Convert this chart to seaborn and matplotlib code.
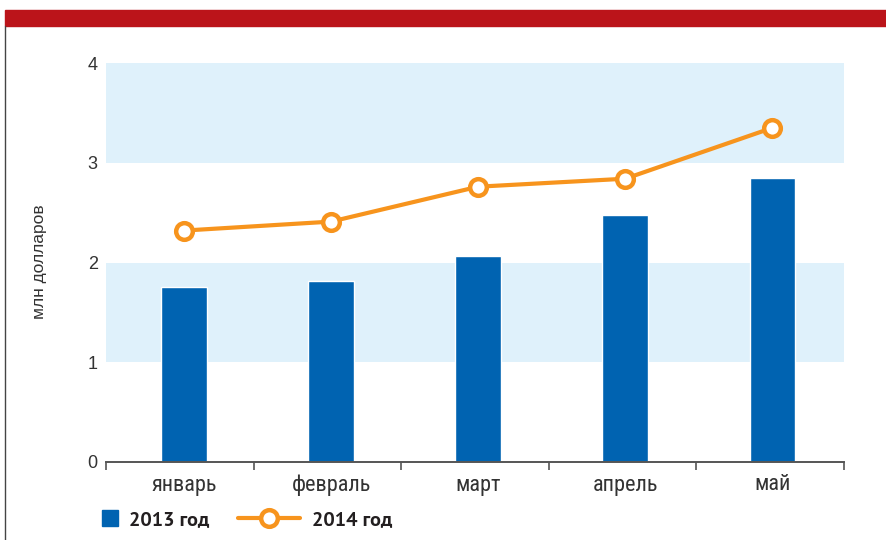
import matplotlib
matplotlib.use("Agg")
import matplotlib.pyplot as plt
from matplotlib import font_manager
from matplotlib.lines import Line2D
from matplotlib.patches import Rectangle
import numpy as np
import seaborn as sns

# data
months = ["январь", "февраль", "март", "апрель", "май"]
values_2013 = [1.75, 1.81, 2.07, 2.48, 2.85]
values_2014 = [2.32, 2.41, 2.76, 2.84, 3.35]
series_labels = ["2013 год", "2014 год"]
y_label = "млн долларов"

BLUE = "#0063b1"
ORANGE = "#f7941d"
BAND = "#dff1fb"
TEXT = "#333333"


def first_font(candidates, fallback):
    installed = {f.name for f in font_manager.fontManager.ttflist}
    for name in candidates:
        if name in installed:
            return name
    return fallback


narrow = first_font(["Roboto Condensed", "PT Sans Narrow", "Fira Sans Condensed",
                     "Liberation Sans Narrow", "Open Sans Condensed"], "Liberation Sans")
bold_font = first_font(["PT Sans", "Fira Sans", "Lato", "Open Sans"], "DejaVu Sans")

sns.set_theme(style="white")
plt.rcParams["font.family"] = ["Liberation Sans", "DejaVu Sans"]

fig = plt.figure(figsize=(8.87, 5.4), dpi=100)
ax = fig.add_axes([106 / 887, 1 - 462 / 540, 738 / 887, 399 / 540])

# light blue bands behind the data
for lo, hi in [(1, 2), (3, 4)]:
    ax.axhspan(lo, hi, color=BAND, zorder=0, lw=0)

sns.barplot(x=months, y=values_2013, color=BLUE, width=0.31, saturation=1,
            ax=ax, zorder=2)
sns.lineplot(x=np.arange(len(months)), y=values_2014, color=ORANGE, lw=3,
             marker="o", markersize=12, markerfacecolor="white",
             markeredgecolor=ORANGE, markeredgewidth=3.2, ax=ax, zorder=3)

# categories sit slightly right of the tick intervals in the original
x0, x1 = -0.53, len(months) - 0.513
ax.set_xlim(x0, x1)
ax.set_ylim(0, 4)
ax.set_yticks([0, 1, 2, 3, 4])
ax.tick_params(axis="y", length=0, labelsize=13, labelcolor=TEXT, pad=6)
ax.set_xticks(np.arange(len(months)))
ax.set_xticklabels(months, fontfamily=[narrow, "DejaVu Sans"])
ax.set_xticks(np.linspace(x0, x1, len(months) + 1), minor=True)
ax.tick_params(axis="x", which="major", length=0, labelsize=16,
               labelcolor=TEXT, pad=9)
ax.tick_params(axis="x", which="minor", length=6, width=1.2,
               color="#555555", direction="out", bottom=True)
ax.set_xlabel("")
ax.set_ylabel("")

for side in ["left", "right", "top"]:
    ax.spines[side].set_visible(False)
ax.spines["bottom"].set_color("#555555")
ax.spines["bottom"].set_linewidth(1.4)

fig.text(40 / 887, 1 - 262 / 540, y_label, rotation=90, ha="center",
         va="center", fontsize=12.5, color=TEXT)

# red header strip and left rule
fig.patches.append(Rectangle((5 / 887, 1 - 26 / 540), 1, 16 / 540,
                             transform=fig.transFigure, color="#bb141a"))
fig.add_artist(Line2D([5.5 / 887, 5.5 / 887], [0, 1 - 26 / 540],
                      transform=fig.transFigure, color="#444444", lw=1))

# legend: two pieces so each handle gets its own length
leg_prop = {"family": [bold_font, "DejaVu Sans"], "weight": "bold", "size": 14.5}
handles = [
    Line2D([], [], ls="none", marker="s", markersize=11, color=BLUE),
    Line2D([], [], color=ORANGE, lw=3, marker="o", markersize=12,
           markerfacecolor="white", markeredgecolor=ORANGE,
           markeredgewidth=3.2),
]
for handle, label, xa, hlen in [(handles[0], series_labels[0], 101, 0.85),
                                (handles[1], series_labels[1], 238, 3.1)]:
    leg = fig.legend([handle], [label], loc="center left",
                     bbox_to_anchor=(xa / 887, 1 - 520 / 540),
                     frameon=False, handlelength=hlen, handletextpad=0.55,
                     borderpad=0, borderaxespad=0, prop=leg_prop)
    for t in leg.get_texts():
        t.set_color("#231f20")

fig.savefig("out.png", dpi=100)
